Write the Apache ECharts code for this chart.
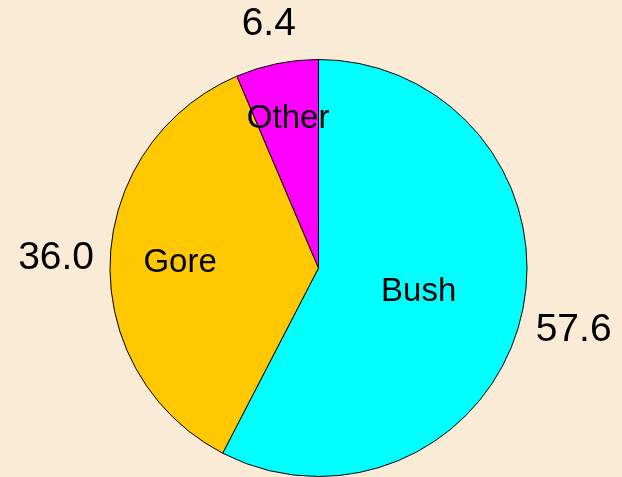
<!DOCTYPE html>
<html>
<head>
<meta charset="utf-8">
<script src="https://cdn.jsdelivr.net/npm/echarts@6/dist/echarts.min.js"></script>
<style>
  html, body { margin: 0; padding: 0; background: #FAEBD7; }
  #chart { width: 622px; height: 477px; }
</style>
</head>
<body>
<div id="chart"></div>
<script>
// vote shares, percent
const categories = ['Bush', 'Gore', 'Other']
const shares = [57.6, 36.0, 6.4]

const sliceColors = ['#00FFFF', '#FFC800', '#FF00FF']
const font = '"Liberation Sans", Arial, sans-serif'

const cx = 318.5
const cy = 268
const R = 208.5

// data for the label-only rings (transparent slices)
function labelData(showFor) {
  return categories.map((name, i) => ({
    name: name,
    value: shares[i],
    label: { show: showFor.indexOf(name) >= 0 }
  }))
}

const hidden = {
  type: 'pie',
  center: [cx, cy],
  startAngle: 90,
  clockwise: true,
  silent: true,
  animation: false,
  avoidLabelOverlap: false,
  labelLine: { show: false },
  itemStyle: { color: 'transparent', borderWidth: 0 },
  emphasis: { disabled: true }
}

const nameLabel = { position: 'inside', formatter: '{b}', color: '#000', fontSize: 33, fontFamily: font }
const valueLabel = {
  position: 'inside',
  formatter: p => p.value.toFixed(1),
  color: '#000',
  fontSize: 39,
  fontFamily: font
}

const chart = echarts.init(document.getElementById('chart'))
chart.setOption({
  backgroundColor: '#FAEBD7',
  animation: false,
  series: [
    {
      type: 'pie',
      center: [cx, cy],
      radius: [0, R],
      startAngle: 90,
      clockwise: true,
      silent: true,
      label: { show: false },
      labelLine: { show: false },
      itemStyle: { borderColor: '#000', borderWidth: 1 },
      emphasis: { disabled: true },
      data: categories.map((name, i) => ({
        name: name,
        value: shares[i],
        itemStyle: { color: sliceColors[i] }
      }))
    },
    // category names inside the slices
    Object.assign({}, hidden, { radius: [0, R * 0.96], label: nameLabel, data: labelData(['Bush']) }),
    Object.assign({}, hidden, { radius: [R * 0.3, R], label: nameLabel, data: labelData(['Gore']) }),
    Object.assign({}, hidden, { radius: [R * 0.43, R], label: nameLabel, data: labelData(['Other']) }),
    // values outside the pie
    Object.assign({}, hidden, { radius: [R * 1.15, R * 1.34], label: valueLabel, data: labelData(['Bush', 'Gore']) }),
    Object.assign({}, hidden, { radius: [R * 1.1, R * 1.26], label: valueLabel, data: labelData(['Other']) })
  ]
})
</script>
</body>
</html>
